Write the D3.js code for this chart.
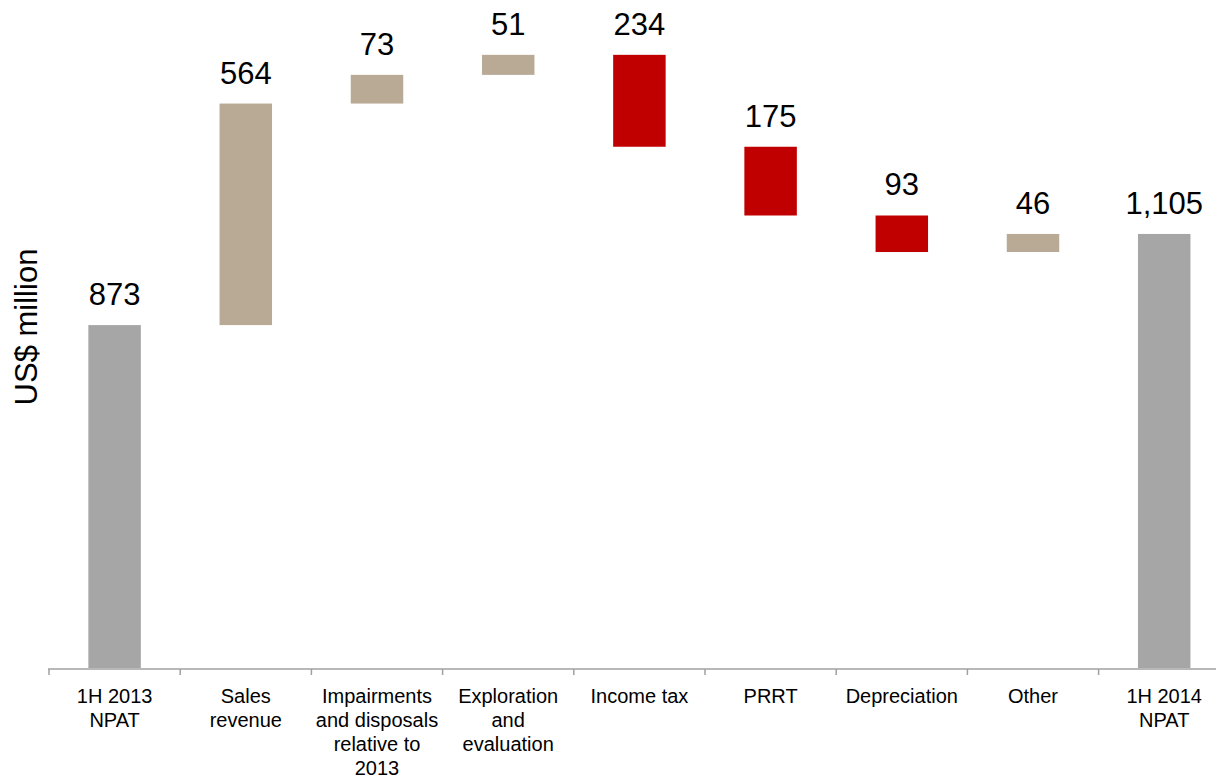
<!DOCTYPE html>
<html>
<head>
<meta charset="utf-8">
<script src="https://cdn.jsdelivr.net/npm/d3@7"></script>
<style>
  body { margin: 0; background: #fff; }
  svg { display: block; font-family: "Liberation Sans", Arial, sans-serif; }
</style>
</head>
<body>
<svg id="viz"></svg>
<script>
const categories = [
  ['1H 2013', 'NPAT'],
  ['Sales', 'revenue'],
  ['Impairments', 'and disposals', 'relative to', '2013'],
  ['Exploration', 'and', 'evaluation'],
  ['Income tax'],
  ['PRRT'],
  ['Depreciation'],
  ['Other'],
  ['1H 2014', 'NPAT']
];
const values = [873, 564, 73, 51, -234, -175, -93, 46, 1105];
const kinds = ['total', 'up', 'up', 'up', 'down', 'down', 'down', 'up', 'total'];
const valueLabels = ['873', '564', '73', '51', '234', '175', '93', '46', '1,105'];

const width = 1216, height = 778;
const baseY = 668;
const color = { total: '#a6a6a6', up: '#b9aa96', down: '#c00000' };

const svg = d3.select('#viz').attr('width', width).attr('height', height);

// running totals for the floating bars
let run = 0;
const data = values.map((v, i) => {
  let y0, y1;
  if (kinds[i] === 'total') { y0 = 0; y1 = v; run = v; }
  else { y0 = run; y1 = run + v; run = y1; }
  return { i, lines: categories[i], lo: Math.min(y0, y1), hi: Math.max(y0, y1), kind: kinds[i], label: valueLabels[i] };
});

const x = d3.scaleBand()
  .domain(d3.range(categories.length))
  .range([49, 49 + 9 * 131.2])
  .paddingInner(0.6)
  .paddingOuter(0.3);

const y = d3.scaleLinear().domain([0, 1700]).range([baseY, baseY - 1700 * 0.3928]);

svg.append('g')
  .selectAll('rect')
  .data(data)
  .join('rect')
  .attr('x', d => x(d.i))
  .attr('y', d => y(d.hi))
  .attr('width', x.bandwidth())
  .attr('height', d => y(d.lo) - y(d.hi))
  .attr('fill', d => color[d.kind]);

svg.append('g')
  .selectAll('text')
  .data(data)
  .join('text')
  .attr('x', d => x(d.i) + x.bandwidth() / 2)
  .attr('y', d => y(d.hi) - 20)
  .attr('text-anchor', 'middle')
  .attr('font-size', 31)
  .attr('fill', '#000')
  .text(d => d.label);

// x axis
const axis = svg.append('g').attr('transform', `translate(0,${baseY + 1})`);
axis.append('line')
  .attr('x1', 48).attr('x2', width)
  .attr('stroke', '#a0a0a0').attr('stroke-width', 1.5);
const step = x.step();
axis.selectAll('.tick')
  .data(d3.range(categories.length))
  .join('line')
  .attr('x1', i => x(i) - step * 0.3)
  .attr('x2', i => x(i) - step * 0.3)
  .attr('y1', 0).attr('y2', 6)
  .attr('stroke', '#a0a0a0').attr('stroke-width', 1.5);

const labels = svg.append('g')
  .selectAll('text')
  .data(data)
  .join('text')
  .attr('x', d => x(d.i) + x.bandwidth() / 2)
  .attr('y', 703)
  .attr('text-anchor', 'middle')
  .attr('font-size', 20)
  .attr('fill', '#000');
labels.selectAll('tspan')
  .data(d => d.lines.map((t, k) => ({ t, k, cx: x(d.i) + x.bandwidth() / 2 })))
  .join('tspan')
  .attr('x', d => d.cx)
  .attr('dy', d => d.k === 0 ? 0 : 24)
  .text(d => d.t);

svg.append('text')
  .attr('transform', 'translate(37,327) rotate(-90)')
  .attr('text-anchor', 'middle')
  .attr('font-size', 31)
  .attr('fill', '#000')
  .text('US$ million');
</script>
</body>
</html>
